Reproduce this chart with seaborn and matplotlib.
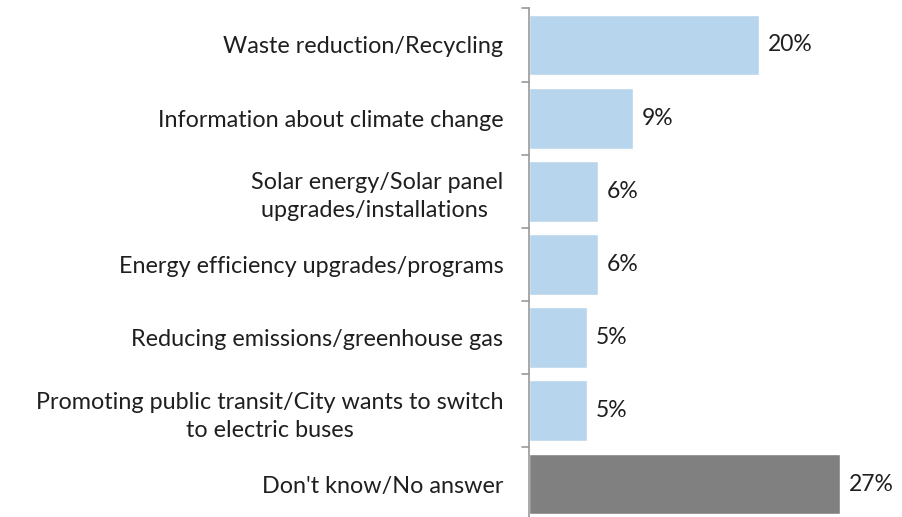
import matplotlib
matplotlib.use("Agg")
import matplotlib.pyplot as plt
import seaborn as sns
import pandas as pd

categories = [
    "Waste reduction/Recycling",
    "Information about climate change",
    "Solar energy/Solar panel\nupgrades/installations ",
    "Energy efficiency upgrades/programs",
    "Reducing emissions/greenhouse gas",
    "Promoting public transit/City wants to switch\nto electric buses",
    "Don't know/No answer",
]
values = [20, 9, 6, 6, 5, 5, 27]
bar_colors = ["#B7D5EC"] * 6 + ["#808080"]

df = pd.DataFrame({"category": categories, "value": values})

sns.set_theme(style="white")
plt.rcParams["font.family"] = ["Lato", "DejaVu Sans"]

fig = plt.figure(figsize=(9.02, 5.17), dpi=100)
ax = fig.add_axes([529 / 902, -0.007, (902 - 529) / 902, 0.9908])

sns.barplot(
    data=df, y="category", x="value", hue="category",
    palette=bar_colors, orient="h", width=0.83, legend=False,
    saturation=1, ax=ax,
)

ax.set_xlim(0, (902 - 529) / 11.5)
ax.set_ylim(len(categories) - 0.5, -0.5)
ax.set_xlabel("")
ax.set_ylabel("")
ax.set_xticks([])

# tick marks sit on the category boundaries, labels at the centers
ax.set_yticks(range(len(categories)))
ax.set_yticklabels(categories, fontsize=16.8, color="#1f1f1f", multialignment="center")
for lbl in ax.get_yticklabels():
    lbl.set_linespacing(1.4)
ax.tick_params(axis="y", length=0, pad=18.5)
for b in [i - 0.5 for i in range(len(categories) + 1)]:
    ax.plot([-0.6, 0], [b, b], color="#9a9a9a", lw=1.2, clip_on=False)

for side in ["top", "right", "bottom"]:
    ax.spines[side].set_visible(False)
ax.spines["left"].set_color("#9a9a9a")
ax.spines["left"].set_linewidth(1.2)

for i, v in enumerate(values):
    ax.text(v + 0.8, i, f"{v}%", va="center", ha="left", fontsize=16.5, color="#1f1f1f")

fig.savefig("out.png", dpi=100)
